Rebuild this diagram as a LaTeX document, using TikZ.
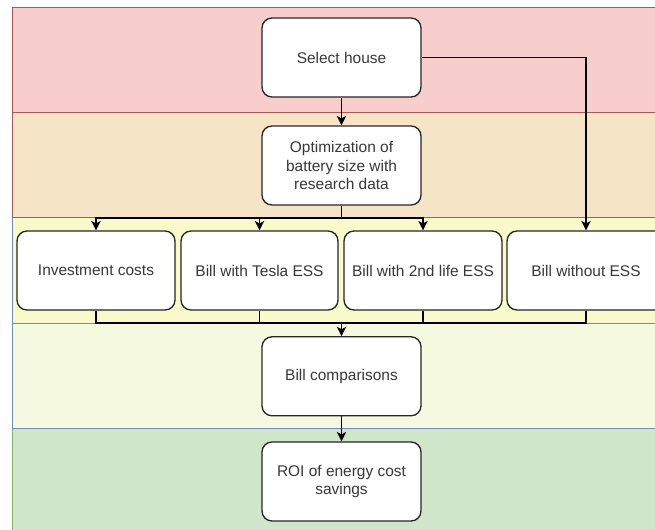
\documentclass[tikz,border=0pt]{standalone}
\usepackage{fontspec}
\setmainfont{Liberation Sans}
\usetikzlibrary{arrows.meta}
\definecolor{bandred}{HTML}{F8CECC}
\definecolor{bandorange}{HTML}{F6E4C6}
\definecolor{bandyellow}{HTML}{F8FAC9}
\definecolor{bandpale}{HTML}{F5F9DF}
\definecolor{bandgreen}{HTML}{D0E6CA}
\definecolor{edgered}{HTML}{B85450}
\definecolor{edgeblue}{HTML}{6C8EBF}
\definecolor{edgegreen}{HTML}{82B366}
\definecolor{txt}{HTML}{383838}
\tikzset{
  band/.style={line width=0.75pt},
  box/.style={draw=black!85, fill=white, line width=1pt, rounded corners=7.5pt,
    minimum height=59.25pt, align=center, text=txt,
    font=\fontsize{11.6pt}{14.1pt}\selectfont, inner sep=2pt},
  arr/.style={draw=black, line width=1pt, -{Stealth[length=7pt,width=7pt,inset=1.8pt]}},
  link/.style={draw=black, line width=1pt}
}
\begin{document}
\begin{tikzpicture}[x=0.75pt,y=-0.75pt]
  \useasboundingbox (0,0) rectangle (655,529);
  \begin{scope}
    \clip (0,0) rectangle (655,529);
    % horizontal bands, drawn bottom to top so upper borders stay visible
    \filldraw[band, fill=bandgreen, draw=edgegreen] (12.5,428) rectangle (700,560);
    \filldraw[band, fill=bandpale, draw=edgeblue] (12.5,323) rectangle (700,428);
    \filldraw[band, fill=bandyellow, draw=edgeblue] (12.5,217.5) rectangle (700,323);
    \filldraw[band, fill=bandorange, draw=edgered] (12.5,112.5) rectangle (700,217.5);
    \filldraw[band, fill=bandred, draw=edgered] (12.5,7.3) rectangle (700,112.5);

    % process steps
    \node[box, minimum width=119.25pt] (sel) at (341.5,57.5) {Select house};
    \node[box, minimum width=119.25pt] (opt) at (341.5,165.5) {Optimization of\\battery size with\\research data};
    \node[box, minimum width=118.5pt] (inv) at (96,270.5) {Investment costs};
    \node[box, minimum width=117.75pt] (tes) at (259.5,270.5) {Bill with Tesla ESS};
    \node[box, minimum width=118.5pt] (sec) at (423,270.5) {Bill with 2nd life ESS};
    \node[box, minimum width=118.5pt] (wo) at (586,270.5) {Bill without ESS};
    \node[box, minimum width=119.25pt] (cmp) at (341.5,376.3) {Bill comparisons};
    \node[box, minimum width=119.25pt] (roi) at (341.5,481.5) {ROI of energy cost\\savings};

    % bus levels
    \coordinate (busT) at (0,218);
    \coordinate (busB) at (0,323);

    % connectors
    \draw[arr] (sel) -- (opt);
    \draw[arr] (sel.east) -| (wo.north);
    % fan-out from the optimisation step
    \draw[arr] (opt.south) -- (opt.south |- busT) -| (inv.north);
    \draw[arr] (opt.south |- busT) -| (sec.north);
    \draw[arr] (tes.north |- busT) -- (tes.north);
    % fan-in to the comparison step
    \draw[arr] (inv.south) -- (inv.south |- busB) -| (cmp.north);
    \draw[link] (wo.south) -- (wo.south |- busB) -- (cmp.north |- busB);
    \draw[link] (tes.south) -- (tes.south |- busB);
    \draw[link] (sec.south) -- (sec.south |- busB);
    \draw[arr] (cmp) -- (roi);
  \end{scope}
\end{tikzpicture}
\end{document}
